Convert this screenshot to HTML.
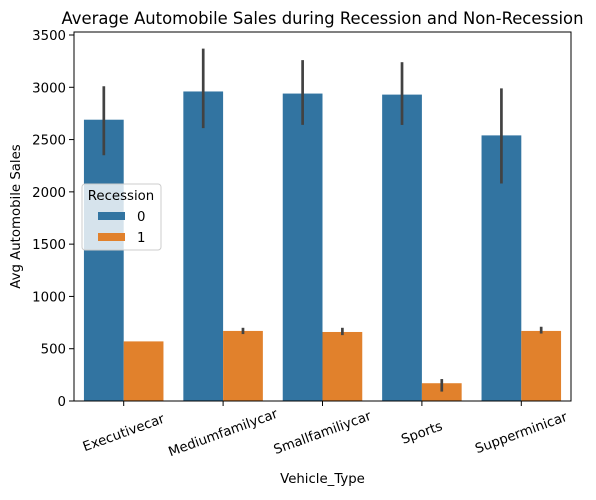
<!DOCTYPE html>
<html><head><meta charset="utf-8"><style>
body{margin:0;background:#fff;font-family:"Liberation Sans","DejaVu Sans",sans-serif}
</style></head><body>
<svg id="chart" width="596" height="495" xmlns="http://www.w3.org/2000/svg" font-family="DejaVu Sans, Liberation Sans, sans-serif">
<g id="bars"></g>
<g id="axes"></g>
</svg>
<script>
const categories=["Executivecar","Mediumfamilycar","Smallfamiliycar","Sports","Supperminicar"];
const rec0=[2690,2960,2940,2930,2540];
const rec0Lo=[2350,2610,2640,2640,2080];
const rec0Hi=[3010,3370,3260,3240,2990];
const rec1=[570,670,660,170,670];
const rec1Lo=[570,640,630,90,645];
const rec1Hi=[570,700,700,210,710];
const yTicks=[0,500,1000,1500,2000,2500,3000,3500];
const L=74,R=571,T=32,B=401,yMax=3500,y3500=35;
const NS="http://www.w3.org/2000/svg";
const y=v=>B-(B-y3500)*v/yMax;
const band=(R-L)/categories.length;
const xc=i=>L+band*(i+0.5);
function mk(t,a,p){const e=document.createElementNS(NS,t);for(const k in a)e.setAttribute(k,a[k]);p.appendChild(e);return e;}
const bars=document.getElementById('bars'),axes=document.getElementById('axes');
const bw=band*0.4;
categories.forEach((c,i)=>{
 [[rec0,rec0Lo,rec0Hi,'#3274a1',-1],[rec1,rec1Lo,rec1Hi,'#e1812c',0]].forEach(([v,lo,hi,col,off],s)=>{
  const x=xc(i)+off*bw;
  const r=mk('rect',{x:x,y:y(v[i]),width:bw,height:B-y(v[i]),fill:col},bars);
  
  
  const e=mk('line',{x1:x+bw/2,x2:x+bw/2,y1:y(lo[i]),y2:y(hi[i]),stroke:'#424242','stroke-width':2.7},bars);
  
  
 });
 const tk=mk('line',{x1:xc(i),x2:xc(i),y1:B,y2:B+5,stroke:'#000','stroke-width':1},axes);
 
 
 const t=mk('text',{x:xc(i),y:B+36,'font-size':13.3,'text-anchor':'middle',transform:`rotate(-20 ${xc(i)} ${B+32})`},axes);
 t.textContent=c;
 
 
});
yTicks.forEach(v=>{
 const tk=mk('line',{x1:L-5,x2:L,y1:y(v),y2:y(v),stroke:'#000','stroke-width':1},axes);
 
 
 const t=mk('text',{x:L-8,y:y(v)+5,'font-size':13.3,'text-anchor':'end'},axes);
 t.textContent=v;
 
 
});
const fr=mk('rect',{x:L,y:T,width:R-L,height:B-T,fill:'none',stroke:'#000','stroke-width':1},axes);


const ti=mk('text',{x:(L+R)/2+0,y:24,'font-size':16.4,'text-anchor':'middle'},axes);
ti.textContent='Average Automobile Sales during Recession and Non-Recession';


const xl=mk('text',{x:(L+R)/2,y:483,'font-size':13.3,'text-anchor':'middle'},axes);
xl.textContent='Vehicle_Type';


const yl=mk('text',{x:20,y:(T+B)/2,'font-size':13.3,'text-anchor':'middle',transform:`rotate(-90 20 ${(T+B)/2})`},axes);
yl.textContent='Avg Automobile Sales';


const lg=mk('g',{},axes);


mk('rect',{x:82,y:184,width:79,height:66,rx:3,fill:'rgba(255,255,255,0.8)',stroke:'#ccc'},lg);
const lt=mk('text',{x:121,y:200,'font-size':13.3,'text-anchor':'middle'},lg);lt.textContent='Recession';
[['0','#3274a1',216],['1','#e1812c',237]].forEach(([n,c,yy])=>{
 const sw=mk('rect',{x:98,y:yy-4,width:27,height:8,fill:c},lg);
 
 
 const t=mk('text',{x:137,y:yy+5,'font-size':13.3},lg);t.textContent=n;
});
</script>
</body></html>
